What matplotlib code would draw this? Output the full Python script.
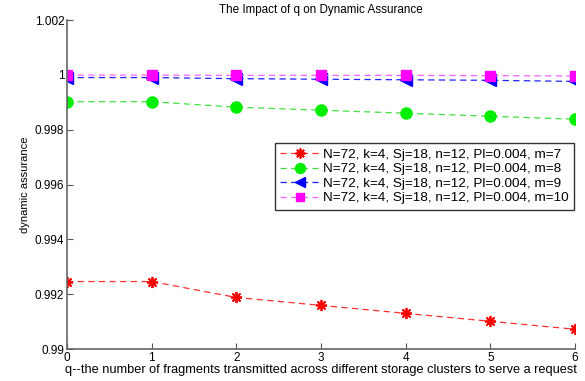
import matplotlib
matplotlib.use('Agg')
import matplotlib.pyplot as plt

plt.rcParams['font.family'] = ['Liberation Sans', 'DejaVu Sans']

q = [0, 1, 2, 3, 4, 5, 6]
da_m7 = [0.99246, 0.99246, 0.99188, 0.99159, 0.99130, 0.99101, 0.99072]
da_m8 = [0.99902, 0.99902, 0.99882, 0.99871, 0.99860, 0.99849, 0.99838]
da_m9 = [0.99990, 0.99990, 0.99986, 0.99984, 0.99982, 0.99980, 0.99976]
da_m10 = [0.99999, 0.99999, 0.99998, 0.99998, 0.99998, 0.99997, 0.99996]
labels = ['N=72, k=4, Sj=18, n=12, Pl=0.004, m=7',
          'N=72, k=4, Sj=18, n=12, Pl=0.004, m=8',
          'N=72, k=4, Sj=18, n=12, Pl=0.004, m=9',
          'N=72, k=4, Sj=18, n=12, Pl=0.004, m=10']

fig = plt.figure(figsize=(5.85, 3.81), dpi=100)
ax = fig.add_axes([67 / 585, 32 / 381, 508 / 585, 329 / 381])

dash = (0, (5, 3.5))
ax.plot(q, da_m7, linestyle=dash, color='#ff3030', marker=(8, 2, 0), markersize=8, mew=1.3, mfc='red', mec='red', lw=0.9, label=labels[0])
ax.plot(q, da_m8, linestyle=dash, color='#40e040', marker='o', markersize=8, mfc='#00ee00', mec='#00ee00', lw=0.9, label=labels[1])
ax.plot(q, da_m9, linestyle=dash, color='#2020ff', marker='<', markersize=8, mfc='blue', mec='blue', lw=0.9, label=labels[2])
ax.plot(q, da_m10, linestyle=dash, color='#ff60ff', marker='s', markersize=7, mfc='#ff00ff', mec='#ff00ff', lw=0.9, label=labels[3])

ax.set_xlim(0, 6)
ax.set_ylim(0.99, 1.002)
ax.set_xticks(q)
ax.set_yticks([0.99, 0.992, 0.994, 0.996, 0.998, 1.0, 1.002])
ax.set_yticklabels(['0.99', '0.992', '0.994', '0.996', '0.998', '1', '1.002'])
ax.tick_params(direction='in', labelsize=8.5, length=4, color='#555555', pad=2)
for s in ['top', 'right']:
    ax.spines[s].set_visible(False)
for s in ['left', 'bottom']:
    ax.spines[s].set_color('#666666')
    ax.spines[s].set_linewidth(1.2)

ax.set_xlabel('q--the number of fragments transmitted across different storage clusters to serve a request', fontsize=9.2, labelpad=0)
ax.set_ylabel('dynamic assurance', fontsize=8, labelpad=3)
ax.set_title('The Impact of q on Dynamic Assurance', fontsize=8.4, pad=5)

leg = ax.legend(loc='upper left', bbox_to_anchor=(0.409, 0.626), fontsize=9.7, frameon=True, fancybox=False,
                edgecolor='black', borderpad=0.4, labelspacing=0.15, handlelength=3.0, handletextpad=0.2,
                borderaxespad=0, markerscale=0.9)
leg.get_frame().set_linewidth(1.0)

fig.savefig('out.png', dpi=100)
